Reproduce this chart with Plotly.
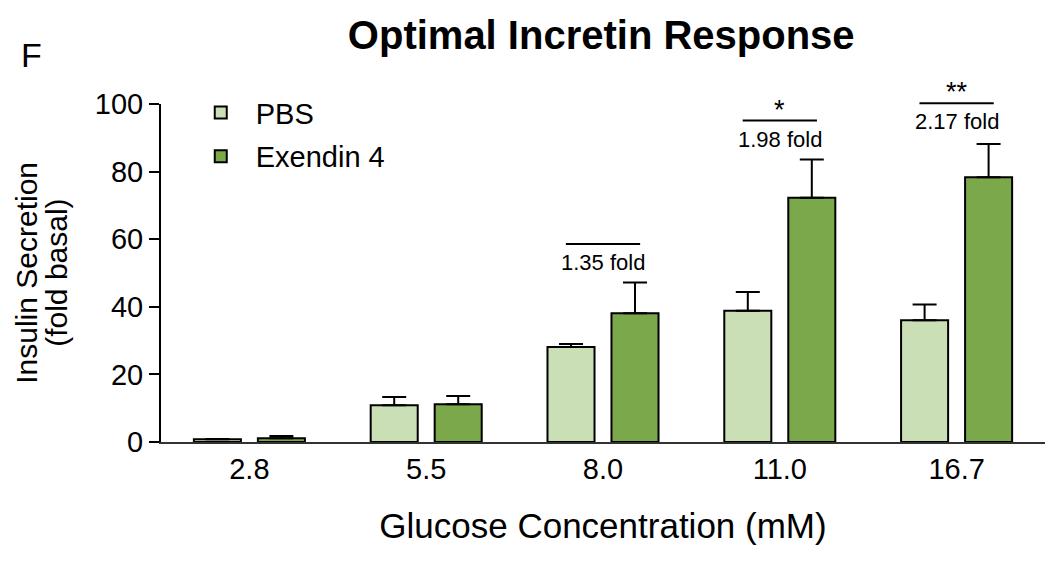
import plotly.graph_objects as go

categories = ["2.8", "5.5", "8.0", "11.0", "16.7"]
pbs_mean = [0.8, 10.9, 28.1, 38.8, 36.0]
pbs_err = [0.1, 2.4, 0.9, 5.6, 4.7]
ex_mean = [1.1, 11.2, 38.1, 72.3, 78.3]
ex_err = [0.7, 2.4, 9.1, 11.3, 9.9]

bracket_idx = [2, 3, 4]
bracket_y = [58.6, 95.1, 100.2]
bracket_fold = ["1.35 fold", "1.98 fold", "2.17 fold"]
bracket_star = ["", "*", "**"]

Y_MIN, Y_MAX = 0, 100
FONT = "Liberation Sans, Arial, sans-serif"

fig = go.Figure()
fig.add_trace(go.Bar(
    name="PBS", x=categories, y=pbs_mean, legendgroup="a",
    marker=dict(color="#cadfb6", line=dict(color="black", width=2)),
    error_y=dict(type="data", array=pbs_err, arrayminus=[0]*len(pbs_err), symmetric=False,
                 color="black", thickness=2, width=12),
))
fig.add_trace(go.Bar(
    name="Exendin 4", x=categories, y=ex_mean, legendgroup="b",
    marker=dict(color="#7aa84a", line=dict(color="black", width=2)),
    error_y=dict(type="data", array=ex_err, arrayminus=[0]*len(ex_err), symmetric=False,
                 color="black", thickness=2, width=12),
))

shapes = []
annotations = []
for i, yv, fold, star in zip(bracket_idx, bracket_y, bracket_fold, bracket_star):
    yp = (yv - Y_MIN) / (Y_MAX - Y_MIN)
    shapes.append(dict(type="line", xref="x", yref="paper", x0=i - 0.21, x1=i + 0.21,
                       y0=yp, y1=yp, line=dict(color="black", width=2)))
    annotations.append(dict(x=i, y=yp, xref="x", yref="paper", text=fold, showarrow=False,
                            yanchor="top", yshift=-4, font=dict(size=22, color="black", family=FONT)))
    if star:
        annotations.append(dict(x=i, y=yp, xref="x", yref="paper", text=star, showarrow=False,
                                yanchor="bottom", yshift=-6, font=dict(size=27, color="black", family=FONT)))

annotations.append(dict(text="F", x=-0.146, y=1.145, xref="paper", yref="paper",
                        xanchor="center", yanchor="middle", showarrow=False,
                        font=dict(size=34, color="black", family=FONT)))
annotations.append(dict(text="Insulin Secretion", x=-0.153, y=0.5, xref="paper", yref="paper",
                        textangle=-90, showarrow=False, xanchor="center", yanchor="middle",
                        font=dict(size=30, color="black", family=FONT)))
annotations.append(dict(text="(fold basal)", x=-0.119, y=0.5, xref="paper", yref="paper",
                        textangle=-90, showarrow=False, xanchor="center", yanchor="middle",
                        font=dict(size=30, color="black", family=FONT)))

fig.update_layout(
    width=1050, height=553,
    margin=dict(l=153, r=13, t=96, b=119),
    paper_bgcolor="white", plot_bgcolor="white",
    font=dict(family=FONT, color="black"),
    barmode="group", bargap=0.276, bargroupgap=0.265,
    title=dict(text="<b>Optimal Incretin Response</b>", x=0.498, xref="paper", xanchor="center",
               y=1 - 27 / 553, yref="container", yanchor="middle",
               font=dict(size=40, color="black", family=FONT)),
    legend=dict(x=0.028, y=1.05, xanchor="left", yanchor="top", bgcolor="rgba(0,0,0,0)",
                font=dict(size=29, color="black", family=FONT), itemwidth=60, tracegroupgap=3),
    shapes=shapes, annotations=annotations,
    showlegend=True,
)
fig.update_xaxes(
    type="category", range=[-0.5, 4.5], showline=True, linecolor="#333", linewidth=2,
    ticks="", showgrid=False, zeroline=False,
    tickfont=dict(size=29, color="black", family=FONT),
    title=dict(text="Glucose Concentration (mM)", font=dict(size=35, color="black", family=FONT), standoff=30),
)
fig.update_yaxes(
    range=[Y_MIN, Y_MAX], tickvals=[0, 20, 40, 60, 80, 100], showline=True, linecolor="black",
    linewidth=2, ticks="outside", ticklen=10, tickwidth=2, tickcolor="black", showgrid=False,
    zeroline=False, tickfont=dict(size=29, color="black", family=FONT),
)

fig.write_html("out.html")
